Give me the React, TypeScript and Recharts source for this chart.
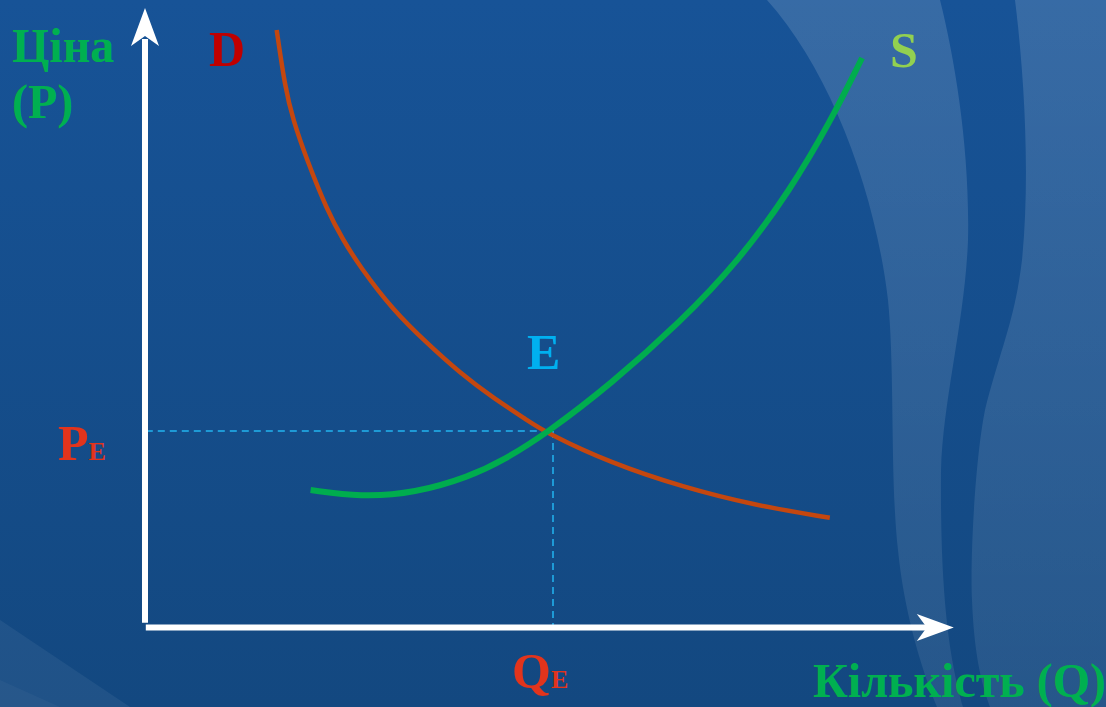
import React from 'react'
import { LineChart, Line, XAxis, YAxis, ReferenceLine, ReferenceDot } from 'recharts'

// demand curve D (quantity, price)
const demandQ = [1.646, 1.75, 1.85, 2.025, 2.275, 2.475, 2.69, 3.1, 3.525, 3.94, 4.35, 4.775, 5.025, 5.825, 6.725, 7.61, 8.56]
const demandP = [9.95, 9.0, 8.45, 7.78, 6.95, 6.45, 6.0, 5.28, 4.73, 4.23, 3.82, 3.45, 3.23, 2.73, 2.33, 2.03, 1.82]

// supply curve S
const supplyQ = [2.07, 2.7, 3.375, 4.045, 4.488, 5.025, 5.825, 6.688, 7.438, 8.063, 8.563, 8.963]
const supplyP = [2.283, 2.167, 2.233, 2.5, 2.783, 3.233, 4.05, 5.078, 6.128, 7.278, 8.412, 9.483]

// equilibrium
const PE = 3.267
const QE = 5.1

const demand = demandQ.map((q, i) => ({ q, p: demandP[i] }))
const supply = supplyQ.map((q, i) => ({ q, p: supplyP[i] }))

const W = 1106
const H = 707
const SERIF = '"Liberation Serif", "Times New Roman", serif'

const COLORS = {
  demand: '#c4470f',
  supply: '#00ad4e',
  axis: '#ffffff',
  dash: '#1e9ad6',
  green: '#00b050',
  red: '#c00000',
  orange: '#e2341c',
  lime: '#92d050',
  cyan: '#00b0f0',
}

function YArrow(props: any) {
  const { cx, cy } = props
  return <polygon points={`${cx},${cy} ${cx - 14},${cy + 38} ${cx},${cy + 28} ${cx + 14},${cy + 38}`} fill={COLORS.axis} />
}

function XArrow(props: any) {
  const { cx, cy } = props
  return <polygon points={`${cx},${cy} ${cx - 37},${cy - 13.5} ${cx - 27},${cy} ${cx - 37},${cy + 13.5}`} fill={COLORS.axis} />
}

function Background() {
  return (
    <svg width={W} height={H} style={{ position: 'absolute', left: 0, top: 0 }}>
      <defs>
        <linearGradient id="bg" x1="0" y1="0" x2="0" y2="1">
          <stop offset="0%" stopColor="#175397" />
          <stop offset="100%" stopColor="#134880" />
        </linearGradient>
        <linearGradient id="band" x1="0" y1="0" x2="0" y2="1">
          <stop offset="0%" stopColor="#ffffff" stopOpacity={0.14} />
          <stop offset="100%" stopColor="#ffffff" stopOpacity={0.08} />
        </linearGradient>
      </defs>
      <rect x={0} y={0} width={W} height={H} fill="url(#bg)" />
      <path
        d="M767,0 C830,70 875,190 888,300 C895,370 890,480 898,550 C904,610 920,665 937,707 L963,707 C950,660 940,600 941,470 C943,400 965,320 968,240 C970,150 955,60 940,0 Z"
        fill="url(#band)"
      />
      <path
        d="M1015,0 C1025,80 1030,180 1022,260 C1015,320 1000,350 985,410 C975,460 970,560 972,600 C974,650 980,680 990,707 L1106,707 L1106,0 Z"
        fill="url(#band)"
      />
      <path d="M0,620 L130,707 L0,707 Z" fill="#ffffff" fillOpacity={0.06} />
      <path d="M0,680 L60,707 L0,707 Z" fill="#ffffff" fillOpacity={0.03} />
    </svg>
  )
}

function Labels() {
  const t = { fontFamily: SERIF, fontWeight: 700 }
  return (
    <svg width={W} height={H} style={{ position: 'absolute', left: 0, top: 0, pointerEvents: 'none' }}>
      <text x={12} y={62} fontSize={48} fill={COLORS.green} style={t}>Ціна</text>
      <text x={12} y={118} fontSize={48} fill={COLORS.green} style={t}>(P)</text>
      <text x={209} y={66} fontSize={50} fill={COLORS.red} style={t}>D</text>
      <text x={890} y={67} fontSize={50} fill={COLORS.lime} style={t}>S</text>
      <text x={527} y={369} fontSize={50} fill={COLORS.cyan} style={t}>E</text>
      <text x={58} y={460} fontSize={50} fill={COLORS.orange} style={t}>
        P<tspan fontSize={26}>E</tspan>
      </text>
      <text x={512} y={688} fontSize={50} fill={COLORS.orange} style={t}>
        Q<tspan fontSize={26}>E</tspan>
      </text>
      <text x={813} y={697} fontSize={48} fill={COLORS.green} style={t}>Кількість (Q)</text>
    </svg>
  )
}

export default function App() {
  return (
    <div style={{ position: 'absolute', left: 0, top: 0, width: W, height: H, overflow: 'hidden' }}>
      <Background />
      <div style={{ position: 'absolute', left: 0, top: 0 }}>
        <LineChart width={W} height={H} margin={{ top: 27, right: 161, left: 145, bottom: 80 }}>
          <XAxis type="number" dataKey="q" domain={[0, 10]} hide allowDataOverflow />
          <YAxis type="number" dataKey="p" domain={[0, 10]} hide allowDataOverflow />
          <ReferenceLine
            segment={[{ x: 0.01, y: PE }, { x: QE, y: PE }]}
            stroke={COLORS.dash}
            strokeWidth={2}
            strokeDasharray="7 5"
            ifOverflow="visible"
          />
          <ReferenceLine
            segment={[{ x: QE, y: PE }, { x: QE, y: 0 }]}
            stroke={COLORS.dash}
            strokeWidth={2}
            strokeDasharray="7 5"
            ifOverflow="visible"
          />
          <ReferenceLine
            segment={[{ x: 0, y: 0.07 }, { x: 0, y: 9.8 }]}
            stroke={COLORS.axis}
            strokeWidth={6}
            ifOverflow="visible"
          />
          <ReferenceLine
            segment={[{ x: 0.01, y: -0.008 }, { x: 9.8, y: -0.008 }]}
            stroke={COLORS.axis}
            strokeWidth={6}
            ifOverflow="visible"
          />
          <ReferenceDot x={0} y={10.317} r={1} shape={YArrow} ifOverflow="visible" />
          <ReferenceDot x={10.11} y={-0.008} r={1} shape={XArrow} ifOverflow="visible" />
          <Line
            data={demand}
            dataKey="p"
            type="basis"
            stroke={COLORS.demand}
            strokeWidth={4.5}
            dot={false}
            activeDot={false}
            isAnimationActive={false}
          />
          <Line
            data={supply}
            dataKey="p"
            type="basis"
            stroke={COLORS.supply}
            strokeWidth={6}
            dot={false}
            activeDot={false}
            isAnimationActive={false}
          />
        </LineChart>
      </div>
      <Labels />
    </div>
  )
}
